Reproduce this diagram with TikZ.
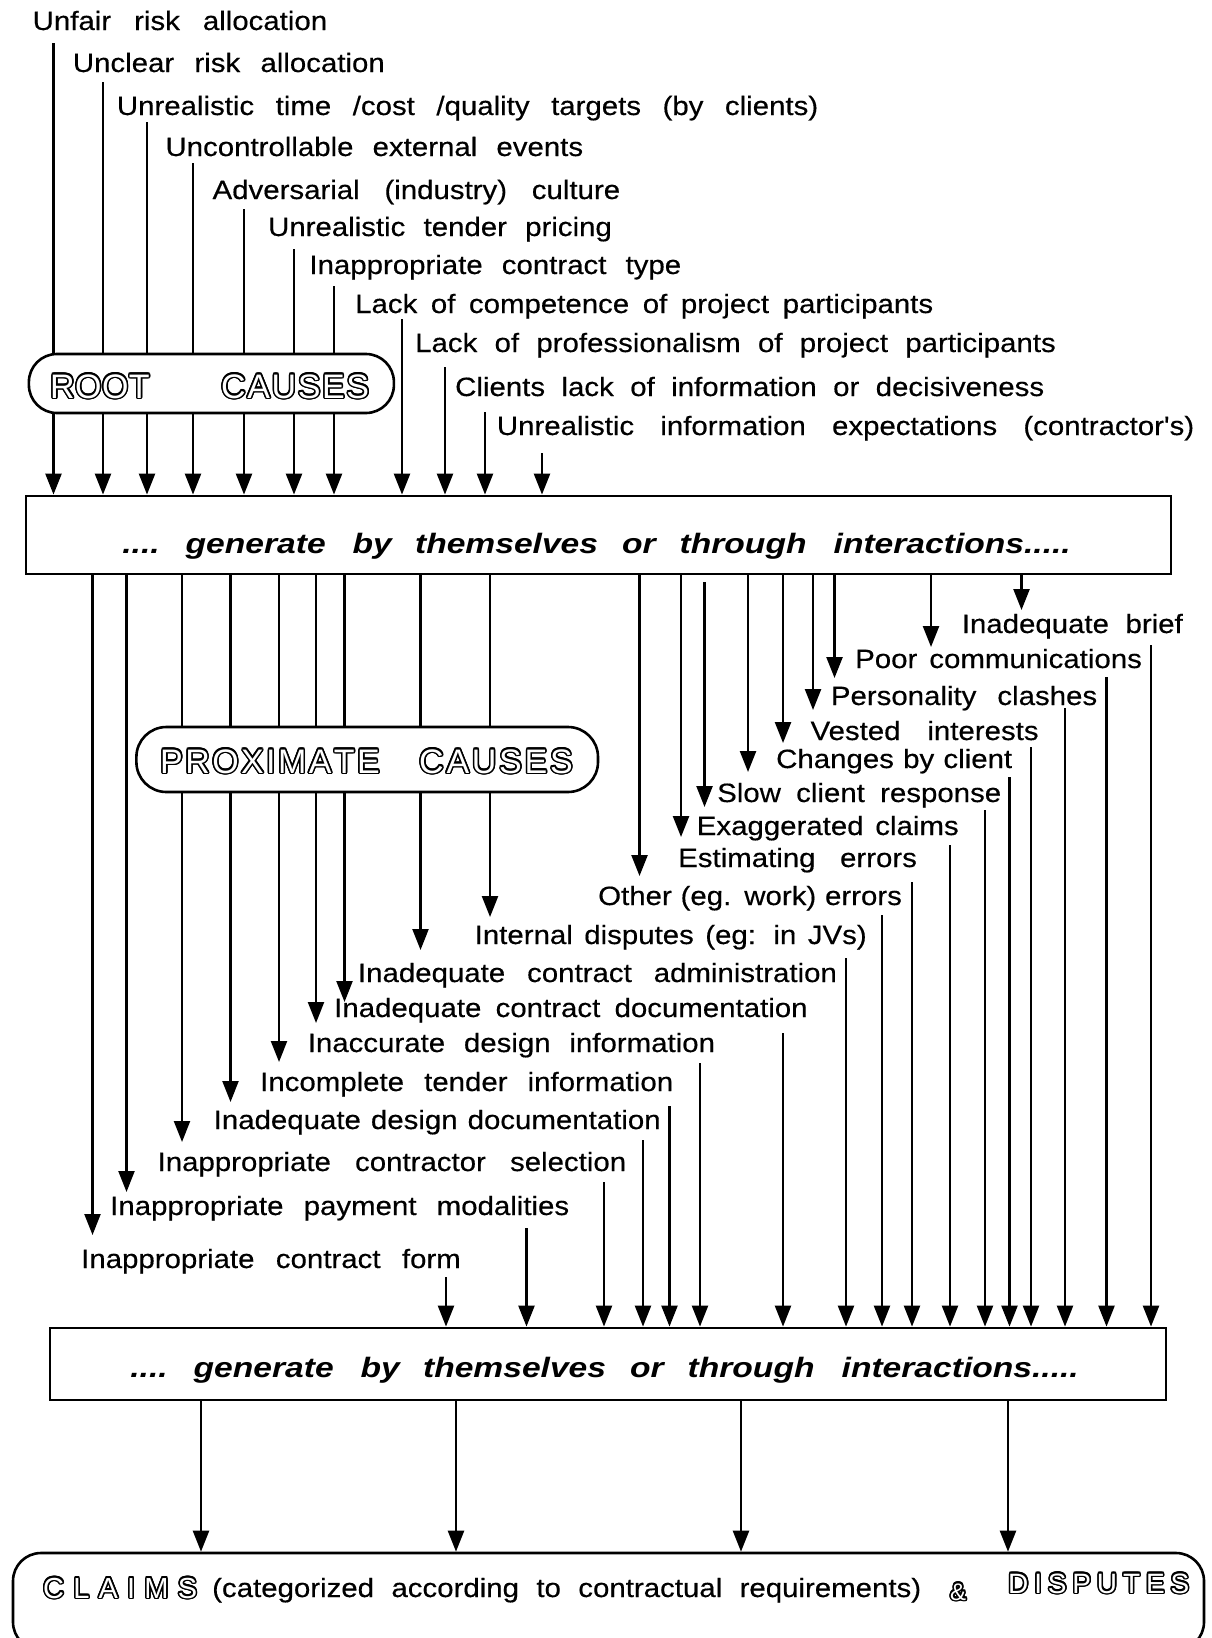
\documentclass[tikz,border=0pt]{standalone}
\usepackage{fontspec}
\setmainfont{Liberation Sans}
\newfontfamily\labelfont[FakeStretch=1.11,FakeBold=0.4]{Liberation Sans}
\newfontfamily\genfont[FakeStretch=1.2]{Liberation Sans}
\newfontfamily\holfont{Liberation Sans}
\usetikzlibrary{arrows.meta}
\hbadness=10000
\hfuzz=200pt

% a cause label: name, left x, baseline y, text, right x (words spread to fill)
\newcommand\cause[5]{\node[lab] (#1) at (#2,#3) {\hbox to \dimexpr #5pt-#2pt\relax{#4}};}
% hollow (outlined) lettering: [options], name, left x, baseline y, width, letters
\newcommand\hollow[6][]{%
  \foreach \a in {0,22.5,...,337.5}{%
    \node[hol,#1,text=black,shift={(\a:1.5pt)}] at (#3,#4) {\hbox to #5pt{#6}};}
  \node[hol,#1,text=white] (#2) at (#3,#4) {\hbox to #5pt{#6}};}
% a word set at a fixed offset from the start of its line
\newcommand\wordat[2]{\rlap{\hskip #1pt #2}}
\newcommand\genline{%
  \wordat{0}{....}\wordat{63.3}{generate}\wordat{230.3}{by}\wordat{292.7}{themselves}%
  \wordat{499.8}{or}\wordat{557.3}{through}\wordat{711.3}{interactions.....}}

\begin{document}
\begin{tikzpicture}[x=1pt,y=-1pt,
  lab/.style={anchor=base west, inner sep=0pt, font=\labelfont\fontsize{26.5}{30}\selectfont},
  gentext/.style={anchor=base west, inner sep=0pt, font=\genfont\bfseries\itshape\fontsize{28}{32}\selectfont},
  hol/.style={anchor=base west, inner sep=0pt, font=\holfont\fontsize{34}{40}\selectfont},
  conn/.style={line width=2.4pt, -{Triangle[width=16pt,length=21pt]}},
  flowbox/.style={draw, line width=2.8pt, fill=white, inner sep=0pt},
  tagbox/.style={draw, line width=2.6pt, fill=white, inner sep=0pt}]

\path[use as bounding box, fill=white] (0,0) rectangle (1211,1638);

% ---------- root causes ----------
\cause{t1}{32.5}{30}{Unfair risk allocation}{327}
\cause{t2}{72.7}{72}{Unclear risk allocation}{384.6}
\cause{t3}{116.7}{115}{Unrealistic time /cost /quality targets (by clients)}{818}
\cause{t4}{165.3}{156}{Uncontrollable external events}{583}
\cause{t5}{212.4}{199}{Adversarial (industry) culture}{620}
\cause{t6}{267.9}{236}{Unrealistic tender pricing}{611.7}
\cause{t7}{309.2}{274}{Inappropriate contract type}{681}
\cause{t8}{355}{313}{Lack of competence of project participants}{933}
\cause{t9}{415}{352}{Lack of professionalism of project participants}{1055.6}
\cause{t10}{455}{396}{Clients lack of information or decisiveness}{1044}
\cause{t11}{496.7}{435}{Unrealistic information expectations (contractor's)}{1194}

\node[flowbox, minimum width=1145pt, minimum height=78pt] (gen1) at (598.5,535) {};
\node[gentext] (gen1txt) at (121.7,553) {\genline};

\foreach \n/\x/\y in {1/53.5/43, 2/103/82, 3/147/122, 4/193/163, 5/244/209,
    6/294/249, 7/334/286, 8/402/319, 9/445/367, 10/485/412, 11/542/453}
  {\coordinate (r\n) at (\x,\y); \draw[conn] (r\n) -- (r\n |- gen1.north);}

\node[tagbox, rounded corners=28pt, minimum width=365pt, minimum height=59pt]
  (rootbox) at (211.4,383.5) {};
\hollow{rootw}{50}{398}{99.5}{R\hfill O\hfill O\hfill T}
\hollow{rootc}{221}{398}{148}{C\hfill A\hfill U\hfill S\hfill E\hfill S}

% ---------- proximate causes ----------
\foreach \n/\x/\y in {1/92.5/1235, 2/126.5/1192, 3/182/1142, 4/230.5/1102, 5/279/1062,
    6/316/1023, 7/344.5/1002, 8/420.5/950, 9/490/917, 10/639.5/876, 11/681/837,
    13/748/772, 14/783/743, 15/813/710, 16/834.5/678, 17/931/647, 18/1021.5/610}
  {\coordinate (p\n) at (\x,\y); \draw[conn] (p\n |- gen1.south) -- (p\n);}
\coordinate (q12) at (704.5,582);
\coordinate (p12) at (704.5,807);
\draw[conn] (q12) -- (p12);

\node[tagbox, rounded corners=30pt, minimum width=461.6pt, minimum height=65pt]
  (proxbox) at (367.2,759.5) {};
\hollow{proxw}{160}{773}{219.6}{P\hfill R\hfill O\hfill X\hfill I\hfill M\hfill A\hfill T\hfill E}
\hollow{proxc}{419}{773}{153.6}{C\hfill A\hfill U\hfill S\hfill E\hfill S}

\cause{b1}{961.6}{633}{Inadequate brief}{1182.6}
\cause{b2}{855}{668}{Poor communications}{1141.7}
\cause{b3}{830.7}{705}{Personality clashes}{1097}
\cause{b4}{810.4}{740}{Vested interests}{1038.4}
\cause{b5}{776}{768}{Changes by client}{1012}
\cause{b6}{717}{802}{Slow client response}{1001}
\cause{b7}{696.6}{835}{Exaggerated claims}{958.5}
\cause{b8}{678}{867}{Estimating errors}{916.7}
\cause{b9}{598}{905}{Other (eg. work) errors}{901.7}
\cause{b10}{474.5}{944}{Internal disputes (eg: in JVs)}{866.5}
\cause{b11}{357.8}{982}{Inadequate contract administration}{836.7}
\cause{b12}{334}{1017}{Inadequate contract documentation}{807.4}
\cause{b13}{307.6}{1052}{Inaccurate design information}{714.8}
\cause{b14}{260}{1091}{Incomplete tender information}{673}
\cause{b15}{213.5}{1129}{Inadequate design documentation}{660.5}
\cause{b16}{157.4}{1171}{Inappropriate contractor selection}{626}
\cause{b17}{110}{1215}{Inappropriate payment modalities}{569}
\cause{b18}{81}{1268}{Inappropriate contract form}{460.6}

\node[flowbox, minimum width=1116pt, minimum height=72pt] (gen2) at (608,1364) {};
\node[gentext] (gen2txt) at (129.7,1377) {\genline};

\foreach \n/\x/\y in {1/446/1277, 2/526.5/1228, 3/604/1182, 4/643/1140, 5/669.5/1106,
    6/700/1063, 7/783/1033, 8/846/958, 9/882/915, 10/912/882, 11/950/845, 12/985/810,
    13/1009.5/777, 14/1031/747, 15/1065/708, 16/1106.5/677, 17/1151/645}
  {\coordinate (d\n) at (\x,\y); \draw[conn] (d\n) -- (d\n |- gen2.north);}

% ---------- claims and disputes ----------
\node[tagbox, rounded corners=28pt, minimum width=1191pt, minimum height=97pt]
  (claimsbox) at (608.5,1601.5) {};
\foreach \n/\x in {1/201, 2/456, 3/741, 4/1008}
  {\coordinate (c\n) at (\x,1400); \draw[conn] (c\n |- gen2.south) -- (c\n |- claimsbox.north);}

\hollow[font=\holfont\fontsize{29}{34}\selectfont]{claimsw}{43}{1598}{154}{C\hfill L\hfill A\hfill I\hfill M\hfill S}
\cause{claimstxt}{212}{1597}{(categorized according to contractual requirements)}{921}
\hollow[font=\holfont\fontsize{24}{28}\selectfont]{amp}{946}{1600}{24}{\hfill\&\hfill}
\hollow[font=\holfont\fontsize{28}{32}\selectfont]{disputesw}{1008}{1593}{181}{D\hfill I\hfill S\hfill P\hfill U\hfill T\hfill E\hfill S}

\end{tikzpicture}
\end{document}
